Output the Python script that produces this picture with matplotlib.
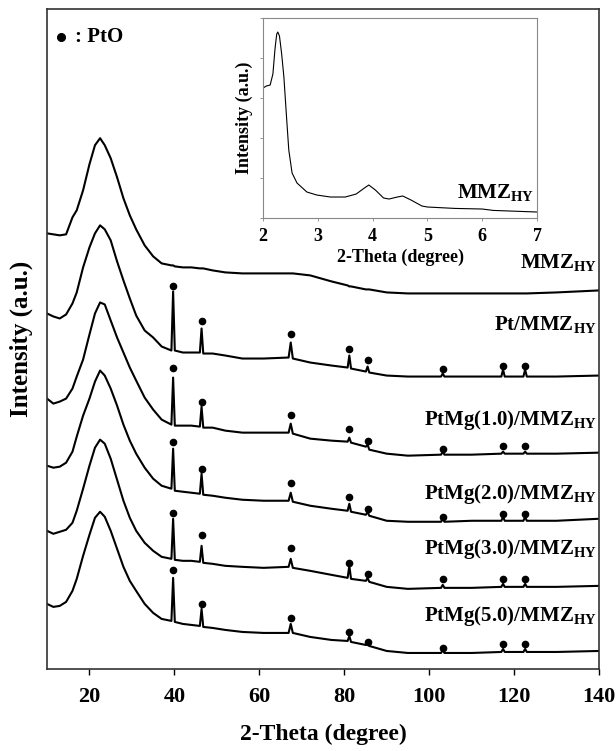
import numpy as np
import matplotlib
matplotlib.use('Agg')
import matplotlib.pyplot as plt

plt.rcParams['font.family'] = 'Liberation Serif'
plt.rcParams['font.weight'] = 'bold'
plt.rcParams['axes.labelweight'] = 'bold'
plt.rcParams['mathtext.fontset'] = 'custom'
plt.rcParams['mathtext.rm'] = 'Liberation Serif:bold'
plt.rcParams['mathtext.bf'] = 'Liberation Serif:bold'

# 2-theta grid (degree) shared by all patterns
two_theta = [10, 11.5, 13, 14.5, 16, 17, 18.5, 20, 21.3, 22.5,
             23.6, 25, 26.5, 28, 29.5, 31, 33, 35, 37, 39.3,
             39.7, 40.1, 42, 44, 46.0, 46.4, 46.8, 49, 52, 56,
             61, 66.9, 67.4, 67.9, 72, 77, 80.8, 81.2, 81.6, 85.1,
             85.5, 85.9, 90, 95, 102.8, 103.2, 103.6, 110, 117.0, 117.4,
             117.8, 122.2, 122.6, 123.0, 130, 140]

# traces read as depth below the top of the stack (a.u.), top pattern first
depth_mmz = [233, 234, 235, 234, 217, 210, 190, 164, 145, 138,
             145, 158, 177, 198, 215, 229, 245, 256, 263, 265,
             265, 266, 267, 267, 268, 268, 268, 270, 272, 273,
             273, 273, 273, 273, 275, 281, 285, 286, 286, 289,
             289, 289, 292, 293, 293, 293, 293, 293, 293, 293,
             293, 293, 293, 293, 292, 290]
depth_pt = [313, 316, 318, 314, 303, 292, 267, 247, 233, 225,
            229, 240, 261, 280, 298, 315, 330, 337, 346, 350,
            291, 350, 352, 352, 352, 328, 353, 353, 355, 358,
            358, 357, 342, 358, 362, 365, 367, 355, 368, 371,
            366, 372, 375, 376, 376, 373, 376, 376, 376, 369,
            376, 376, 369, 376, 376, 375]
depth_mg10 = [398, 403, 401, 398, 388, 376, 359, 334, 313, 302,
              304, 320, 337, 352, 367, 380, 397, 409, 419, 424,
              377, 425, 425, 425, 426, 406, 427, 427, 430, 432,
              432, 432, 423, 433, 438, 440, 441, 437, 442, 446,
              444, 449, 453, 455, 454, 451, 454, 454, 453, 451,
              453, 453, 451, 453, 453, 452]
depth_mg20 = [465, 467, 466, 462, 451, 436, 415, 398, 381, 370,
              375, 388, 405, 424, 440, 453, 467, 478, 485, 488,
              448, 490, 491, 492, 493, 473, 494, 495, 497, 499,
              500, 500, 492, 501, 505, 508, 510, 503, 511, 514,
              511, 515, 520, 521, 521, 518, 521, 520, 520, 516,
              520, 520, 516, 520, 520, 518]
depth_mg30 = [530, 533, 531, 529, 522, 510, 488, 465, 447, 439,
              443, 458, 479, 500, 517, 530, 542, 550, 556, 558,
              518, 559, 560, 560, 561, 545, 562, 563, 565, 566,
              567, 566, 558, 567, 570, 574, 577, 565, 578, 580,
              577, 581, 586, 588, 587, 584, 587, 587, 586, 583,
              586, 586, 583, 586, 586, 585]
depth_mg50 = [603, 606, 605, 601, 590, 578, 555, 534, 517, 511,
              516, 530, 548, 566, 580, 590, 603, 612, 618, 620,
              577, 621, 623, 624, 625, 608, 626, 627, 629, 631,
              632, 632, 623, 632, 636, 639, 640, 635, 641, 644,
              643, 645, 650, 652, 652, 649, 652, 652, 651, 648,
              651, 651, 648, 651, 651, 650]

# PtO reflections and the depth of each marker per sample
pto_theta = [39.6, 46.4, 67.4, 81.2, 85.5, 103.2, 117.4, 122.6]
dots_pt = [286, 321, 334, 348, 359, 368, 365, 365]
dots_mg10 = [367, 401, 414, 428, 440, 448, 445, 445]
dots_mg20 = [441, 468, 482, 496, 508, 516, 513, 513]
dots_mg30 = [512, 534, 547, 562, 573, 578, 578, 578]
dots_mg50 = [569, 603, 617, 631, 641, 647, 643, 643]

labels = ['MMZ', 'Pt/MMZ', 'PtMg(1.0)/MMZ', 'PtMg(2.0)/MMZ',
          'PtMg(3.0)/MMZ', 'PtMg(5.0)/MMZ']
label_depth = [268, 330, 424, 498, 553, 620]

# low-angle inset (MMZ_HY)
inset_theta = [2.0, 2.06, 2.13, 2.18, 2.22, 2.25, 2.27, 2.3, 2.34, 2.38,
               2.43, 2.47, 2.53, 2.62, 2.8, 2.98, 3.23, 3.5, 3.7, 3.85,
               3.93, 4.05, 4.2, 4.3, 4.45, 4.55, 4.7, 4.9, 5.0, 5.5,
               6.0, 6.2, 7.0]
inset_int = [0.65, 0.66, 0.665, 0.72, 0.85, 0.92, 0.93, 0.91, 0.82, 0.707,
             0.5, 0.34, 0.225, 0.175, 0.13, 0.115, 0.105, 0.105, 0.12, 0.15,
             0.165, 0.14, 0.1, 0.095, 0.105, 0.11, 0.09, 0.06, 0.055, 0.048,
             0.045, 0.038, 0.03]

TOP = 668  # stack height, depths are measured down from here
traces = [depth_mmz, depth_pt, depth_mg10, depth_mg20, depth_mg30, depth_mg50]
dots = [dots_pt, dots_mg10, dots_mg20, dots_mg30, dots_mg50]

fig = plt.figure(figsize=(6.16, 7.51), dpi=100)
ax = fig.add_axes([0.0763, 0.1092, 0.8961, 0.8788])

for tr in traces:
    ax.plot(two_theta, TOP - np.array(tr), color='black', lw=1.5)
for d in dots:
    ax.plot(pto_theta, TOP - np.array(d), 'o', color='black', ms=4.5)

for lab, dep in zip(labels, label_depth):
    ax.text(139.5, TOP - dep, lab + r'$_{\mathrm{HY}}$', ha='right', va='baseline',
            fontsize=15)

ax.plot([0.025], [0.957], 'o', color='black', ms=5.5, transform=ax.transAxes, clip_on=False)
ax.text(0.05, 0.957, ': PtO', transform=ax.transAxes, va='center', fontsize=15)

ax.set_xlim(10, 140)
ax.set_ylim(0, 659)
ax.set_xticks([20, 40, 60, 80, 100, 120, 140])
ax.set_yticks([])
ax.tick_params(axis='x', direction='out', length=4, width=1, pad=9, labelsize=16)
for s in ax.spines.values():
    s.set_color('#333333')
    s.set_linewidth(1.2)
ax.set_xlabel('2-Theta (degree)', fontsize=17, labelpad=12)
ax.set_ylabel('Intensity (a.u.)', fontsize=18, labelpad=10)

# inset
ins = fig.add_axes([0.427, 0.7097, 0.4448, 0.2663])
ins.plot(inset_theta, inset_int, color='black', lw=0.8)
ins.set_xlim(2, 7)
ins.set_ylim(0, 1)
ins.set_yticks([0, 0.2, 0.4, 0.6, 0.8, 1.0])
ins.set_yticklabels([])
ins.tick_params(axis='both', direction='out', length=2.5, width=0.6, color='#888888')
ins.tick_params(axis='x', labelsize=13, pad=5)
for s in ins.spines.values():
    s.set_color('#888888')
    s.set_linewidth(0.8)
ins.set_xlabel('2-Theta (degree)', fontsize=13, labelpad=2)
ins.set_ylabel('Intensity (a.u.)', fontsize=13, labelpad=1)
ins.text(6.95, 0.1, r'MMZ$_{\mathrm{HY}}$', ha='right', va='baseline', fontsize=15)

fig.savefig('out.png', dpi=100)
